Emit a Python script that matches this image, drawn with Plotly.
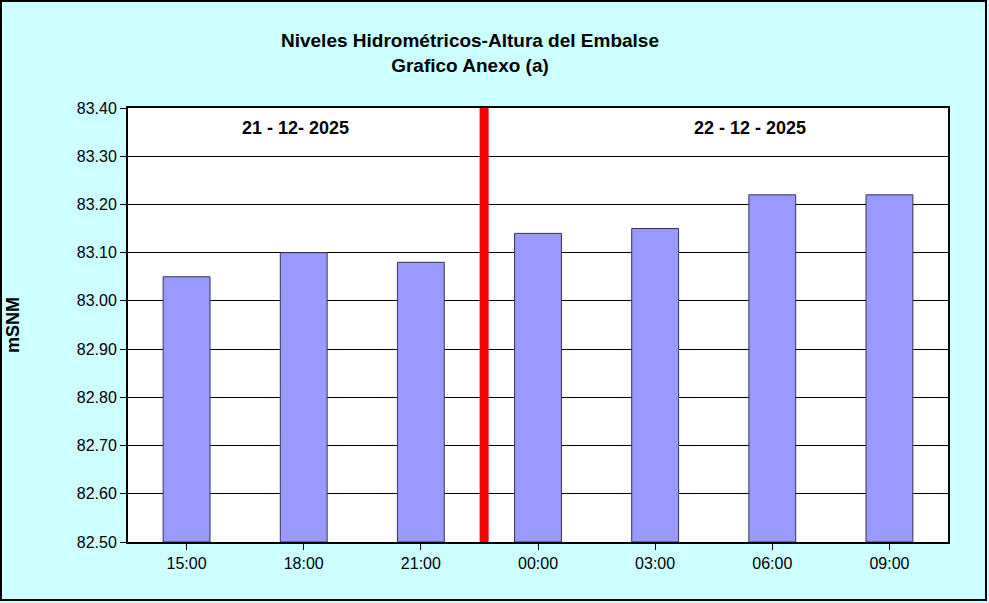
import plotly.graph_objects as go

horas = ["15:00", "18:00", "21:00", "00:00", "03:00", "06:00", "09:00"]
niveles = [83.05, 83.10, 83.08, 83.14, 83.15, 83.22, 83.22]
fechas = ["21 - 12- 2025", "22 - 12 - 2025"]
separador_x = 2.54

L, R, T, B = 128, 41, 108, 61
W, H = 989, 603
pw, ph = W - L - R, H - T - B

fig = go.Figure()
fig.add_trace(go.Bar(
    x=list(range(len(horas))), y=[v - 82.5 for v in niveles], base=82.5,
    width=0.4, marker=dict(color="#9999FF", line=dict(color="#333355", width=1)),
    hoverinfo="skip"))

font = "Arial, Liberation Sans, sans-serif"
fig.update_layout(
    width=W, height=H, margin=dict(l=L, r=R, t=T, b=B),
    paper_bgcolor="#CCFFFF", plot_bgcolor="white", showlegend=False,
    font=dict(family=font, size=16, color="black"),
    title=dict(text="<b>Niveles Hidrométricos-Altura del Embalse<br>Grafico Anexo (a)</b>",
               x=470 / W, xanchor="center", y=1 - 47 / H, yanchor="top",
               font=dict(size=19, family=font)),
    xaxis=dict(range=[-0.5, 6.5], tickmode="array", tickvals=list(range(len(horas))),
               ticktext=horas, showgrid=False, showline=True, linecolor="black",
               linewidth=2, mirror=True, ticks="outside", ticklen=6, tickcolor="black",
               zeroline=False, tickson="boundaries"),
    yaxis=dict(range=[82.5, 83.4], dtick=0.1, tick0=82.5, tickformat=".2f",
               showgrid=True, gridcolor="black", gridwidth=1, showline=True,
               linecolor="black", linewidth=2, mirror=True, ticks="outside",
               ticklen=6, tickcolor="black", zeroline=False,
               title=dict(text="<b>mSNM</b>", font=dict(size=18), standoff=52)),
)

fig.add_shape(type="line", xref="x", yref="y", x0=separador_x, x1=separador_x,
              y0=82.5, y1=83.4, line=dict(color="#FF0000", width=9))

fig.add_annotation(x=0.93, y=83.358, xref="x", yref="y", text="<b>" + fechas[0] + "</b>",
                   showarrow=False, font=dict(size=18))
fig.add_annotation(x=4.81, y=83.358, xref="x", yref="y", text="<b>" + fechas[1] + "</b>",
                   showarrow=False, font=dict(size=18))

# outer border
fig.add_shape(type="rect", xref="paper", yref="paper",
              x0=(1 - L) / pw, x1=(986 - L) / pw,
              y0=-(600 - (H - B)) / ph, y1=((H - B) - 1) / ph,
              line=dict(color="black", width=2), fillcolor="rgba(0,0,0,0)", layer="below")

fig.write_html("out.html", config={"displayModeBar": False},
               post_script="document.body.style.margin='0';")
